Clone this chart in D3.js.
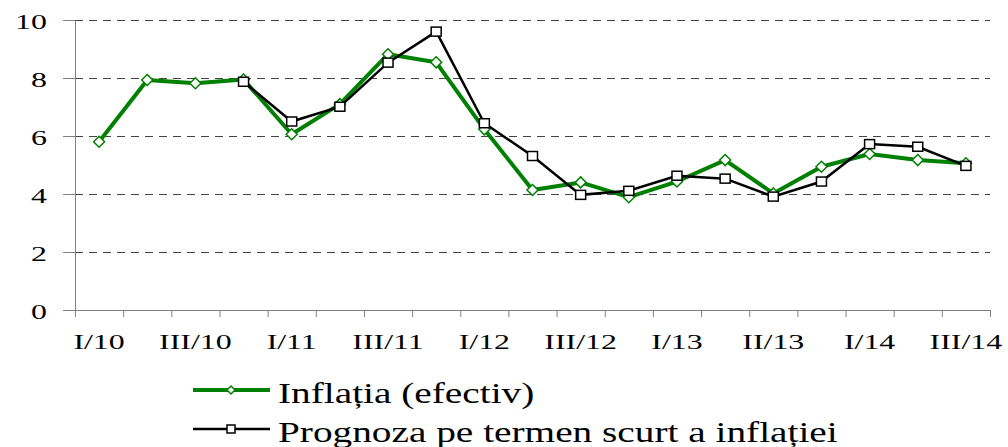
<!DOCTYPE html>
<html>
<head>
<meta charset="utf-8">
<script src="https://cdn.jsdelivr.net/npm/d3@7"></script>
<style>
  body { margin: 0; background: #fff; }
  text { font-family: "Liberation Serif", "Times New Roman", serif; fill: #000; }
</style>
</head>
<body>
<div id="chart"></div>
<script>
// quarters I/10 .. III/14
const categories = ["I/10","II/10","III/10","IV/10","I/11","II/11","III/11","IV/11",
  "I/12","II/12","III/12","IV/12","I/13","II/13","III/13","IV/13","I/14","II/14","III/14"];
// labels as printed under the axis (every second quarter)
const tickLabels = ["I/10","III/10","I/11","III/11","I/12","III/12","I/13","II/13","I/14","III/14"];
const yTicks = [0, 2, 4, 6, 8, 10];

const actual = [5.80, 7.93, 7.82, 7.95, 6.06, 7.10, 8.82, 8.54, 6.23, 4.14,
  4.40, 3.89, 4.43, 5.17, 4.02, 4.94, 5.38, 5.17, 5.06];
const forecast = [null, null, null, 7.87, 6.50, 7.01, 8.53, 9.60, 6.44, 5.31,
  3.97, 4.11, 4.63, 4.53, 3.91, 4.43, 5.72, 5.63, 4.97];

const seriesNames = ["Inflația (efectiv)", "Prognoza pe termen scurt a inflației"];

const width = 1008, height = 447;
const margin = { top: 20, left: 75, right: 18, bottom: 137 };
const innerW = width - margin.left - margin.right;
const innerH = height - margin.top - margin.bottom;

const svg = d3.select("#chart").append("svg")
    .attr("width", width)
    .attr("height", height);

const g = svg.append("g")
    .attr("transform", "translate(" + margin.left + "," + margin.top + ")");

const xScale = d3.scaleBand().domain(categories).range([0, innerW]);
const xEdges = d3.scaleLinear().domain([0, categories.length]).range([0, innerW]);
const yScale = d3.scaleLinear().domain([0, 10]).range([innerH, 0]);

// gridlines
g.append("g")
    .attr("transform", "translate(0,0.5)")
  .selectAll("line")
  .data(yTicks.filter(d => d > 0))
  .join("line")
    .attr("x1", 0).attr("x2", innerW)
    .attr("y1", d => yScale(d)).attr("y2", d => yScale(d))
    .attr("stroke", "#444")
    .attr("stroke-width", 1)
    .attr("stroke-dasharray", "8,6");

// y axis
const yAxisG = g.append("g")
    .call(d3.axisLeft(yScale).tickValues(yTicks).tickSize(12).tickSizeOuter(0));
yAxisG.select(".domain").attr("stroke", "#808080");
yAxisG.selectAll(".tick line").attr("stroke", "#808080");
yAxisG.selectAll("text")
    .attr("x", null).attr("dy", null)
    .attr("font-size", 22)
    .attr("text-anchor", "end")
    .attr("transform", "translate(-28,8) scale(1.45,1)");

// x axis: boundary ticks
const xTickG = g.append("g")
    .attr("transform", "translate(0," + innerH + ")")
    .call(d3.axisBottom(xEdges).ticks(categories.length).tickSize(7).tickSizeOuter(0).tickFormat(""));
xTickG.select(".domain").attr("stroke", "#808080");
xTickG.selectAll(".tick line").attr("stroke", "#808080");

// x axis labels
const xLabelG = g.append("g")
    .attr("transform", "translate(0," + innerH + ")")
    .call(d3.axisBottom(xScale)
      .tickValues(categories.filter((d, i) => i % 2 === 0))
      .tickFormat((d, i) => tickLabels[i])
      .tickSize(0));
xLabelG.select(".domain").remove();
xLabelG.selectAll("text")
    .attr("y", null).attr("dy", null)
    .attr("font-size", 22)
    .attr("transform", "translate(0,39) scale(1.45,1)");

const cx = i => xScale(categories[i]) + xScale.bandwidth() / 2;

const line = d3.line()
    .defined(d => d != null)
    .x((d, i) => cx(i))
    .y(d => yScale(d));

// actual inflation
g.append("path")
    .datum(actual)
    .attr("fill", "none")
    .attr("stroke", "#008000")
    .attr("stroke-width", 4)
    .attr("stroke-linejoin", "round")
    .attr("d", line);

const diamond = "M0,-5.5L5.5,0L0,5.5L-5.5,0Z";
g.append("g")
  .selectAll("path")
  .data(actual)
  .join("path")
    .attr("d", diamond)
    .attr("transform", (d, i) => "translate(" + cx(i) + "," + yScale(d) + ")")
    .attr("fill", "#fff")
    .attr("stroke", "#008000")
    .attr("stroke-width", 1.5);

// short-term forecast
g.append("path")
    .datum(forecast)
    .attr("fill", "none")
    .attr("stroke", "#000")
    .attr("stroke-width", 2.5)
    .attr("d", line);

g.append("g")
  .selectAll("rect")
  .data(forecast.map((v, i) => ({ v, i })).filter(d => d.v != null))
  .join("rect")
    .attr("x", d => cx(d.i) - 5)
    .attr("y", d => yScale(d.v) - 4.5)
    .attr("width", 10)
    .attr("height", 9)
    .attr("fill", "#fff")
    .attr("stroke", "#000")
    .attr("stroke-width", 1.5);

// legend
const legend = svg.append("g");
const legendRows = [
  { name: seriesNames[0], color: "#008000", sw: 4, marker: "diamond", y: 390 },
  { name: seriesNames[1], color: "#000", sw: 2.5, marker: "square", y: 429 }
];
legendRows.forEach(r => {
  legend.append("line")
      .attr("x1", 193).attr("x2", 270)
      .attr("y1", r.y).attr("y2", r.y)
      .attr("stroke", r.color)
      .attr("stroke-width", r.sw);
  if (r.marker === "diamond") {
    legend.append("path")
        .attr("d", "M0,-4L4,0L0,4L-4,0Z")
        .attr("transform", "translate(231," + r.y + ")")
        .attr("fill", "#fff").attr("stroke", r.color).attr("stroke-width", 1.5);
  } else {
    legend.append("rect")
        .attr("x", 227).attr("y", r.y - 4)
        .attr("width", 8).attr("height", 8)
        .attr("fill", "#fff").attr("stroke", r.color).attr("stroke-width", 1.5);
  }
  legend.append("text")
      .attr("font-size", 30)
      .attr("transform", "translate(278," + (r.y + 13) + ") scale(1.31,1)")
      .text(r.name);
});
</script>
</body>
</html>
